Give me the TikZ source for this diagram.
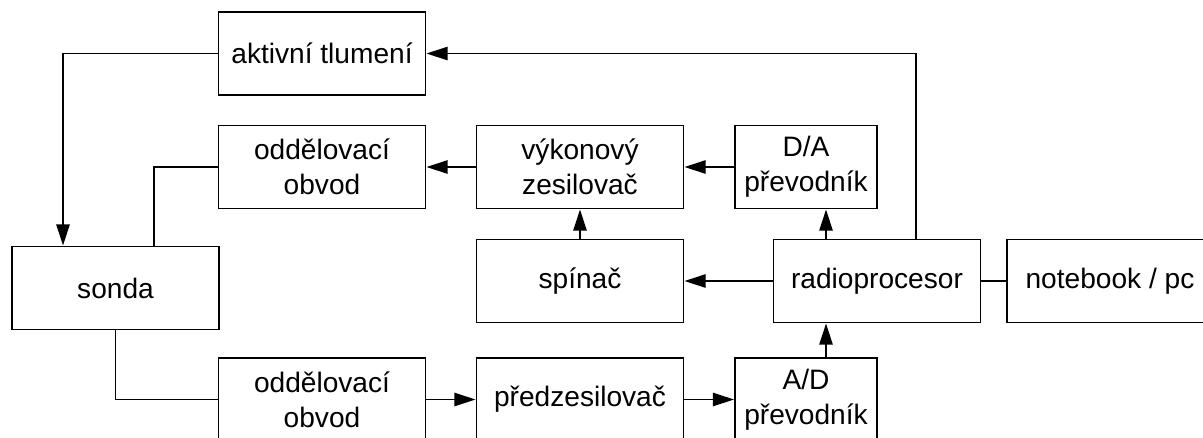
\documentclass[tikz,border=0pt]{standalone}
\usepackage{fontspec}
\newfontfamily\boxfont{Liberation Sans}
\usetikzlibrary{arrows.meta}

\begin{document}
\begin{tikzpicture}[x=0.02cm, y=-0.02cm,
    box/.style={draw, line width=1.1pt, minimum width=4.14cm, minimum height=1.66cm,
      inner sep=0pt, align=center, font=\boxfont\fontsize{16}{19.8}\selectfont},
    conv/.style={box, minimum width=2.84cm},
    line/.style={line width=1.1pt},
    arr/.style={line, -{Triangle[length=12pt, width=7.5pt]}}]
    \useasboundingbox (0,0) rectangle (1203,437);
    % blocks
    \node[box] (tlum) at (322,53.5) {aktivní tlumení};
    \node[box] (oddA) at (322,167) {oddělovací\\obvod};
    \node[box] (vyk) at (580,167) {výkonový\\zesilovač};
    \node[conv] (da) at (806,167) {D/A\\převodník};
    \node[box] (sonda) at (115.5,288) {sonda};
    \node[box] (spinac) at (580,281) {spínač};
    \node[box] (radio) at (877,281) {radioprocesor};
    \node[box] (nb) at (1110,281) {notebook / pc};
    \node[box] (oddB) at (322,399.5) {oddělovací\\obvod};
    \node[box] (pred) at (580,399.5) {předzesilovač};
    \node[conv] (ad) at (806,399.5) {A/D\\převodník};
    % connections
    \draw[arr] ([xshift=0.78cm]radio.north) |- (tlum.east);
    \draw[arr] (tlum.west) -| ([xshift=-1.05cm]sonda.north);
    \draw[line] (oddA.west) -| ([xshift=0.77cm]sonda.north);
    \draw[arr] (vyk) -- (oddA);
    \draw[arr] (da) -- (vyk);
    \draw[arr] (spinac) -- (vyk);
    \draw[arr] (radio) -- (spinac);
    \coordinate (tap) at ([xshift=-1.02cm]radio.north);
    \draw[arr] (tap) -- (tap |- da.south);
    \draw[arr] (tap |- ad.north) -- (tap |- radio.south);
    \draw[line] (radio) -- (nb);
    \draw[line] (sonda.south) |- (oddB.west);
    \draw[arr] (oddB) -- (pred);
    \draw[arr] (pred) -- (ad);
\end{tikzpicture}
\end{document}
